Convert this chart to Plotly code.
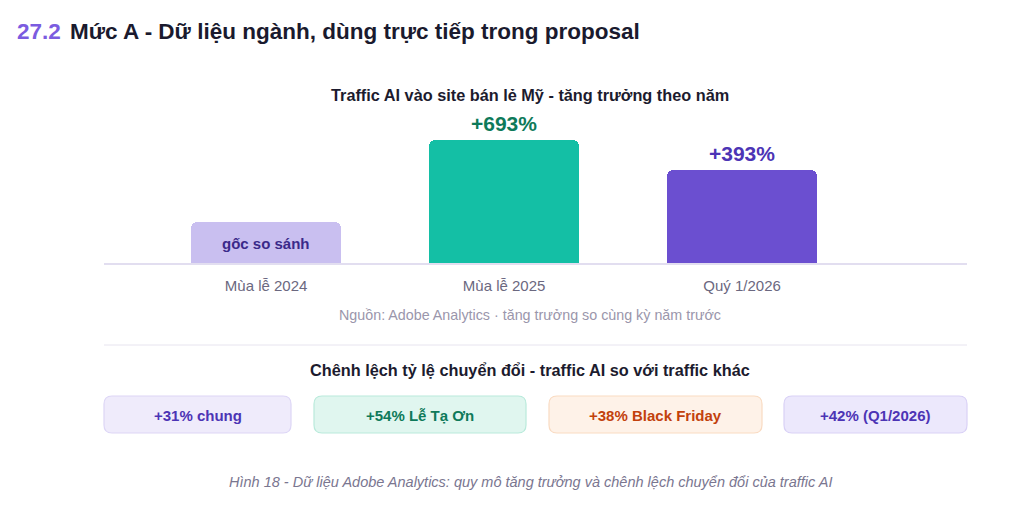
import plotly.graph_objects as go

W, H = 1024, 517

# ---- data ----
categories = ["Mùa lễ 2024", "Mùa lễ 2025", "Quý 1/2026"]
bar_heights = [33, 100, 76]          # relative bar height (% of tallest)
bar_labels = ["gốc so sánh", "+693%", "+393%"]
bar_colors = ["#c9bff0", "#14bfa5", "#6b4fd0"]
label_colors = ["#3b2a8a", "#0e7a5a", "#4c34b5"]

pill_labels = ["+31% chung", "+54% Lễ Tạ Ơn", "+38% Black Friday", "+42% (Q1/2026)"]
pill_fills = ["#efebfb", "#e0f6ef", "#fef2e8", "#ece8fc"]
pill_borders = ["#ddd6f6", "#b9eadb", "#f9dbc2", "#d9d1f6"]
pill_text = ["#4c34b5", "#0e7a5a", "#c2410c", "#4c34b5"]

FONT = "Liberation Sans"

def px(x):
    return x / W

def py(y):
    return 1 - y / H

fig = go.Figure()
xs = list(range(len(categories)))
fig.add_trace(go.Bar(
    x=xs, y=bar_heights, width=0.63,
    marker=dict(color=bar_colors, line=dict(width=0), cornerradius=6),
    hoverinfo="skip", showlegend=False,
))

annotations = []
# labels on bars
for i, (lab, h, c) in enumerate(zip(bar_labels, bar_heights, label_colors)):
    if i == 0:
        annotations.append(dict(x=i, y=h / 2, xref="x", yref="y", text=f"<b>{lab}</b>",
                                showarrow=False, font=dict(family=FONT, size=15, color=c),
                                xanchor="center", yanchor="middle", yshift=-1))
    else:
        annotations.append(dict(x=i, y=h, xref="x", yref="y", text=f"<b>{lab}</b>",
                                showarrow=False, font=dict(family=FONT, size=21, color=c),
                                xanchor="center", yanchor="bottom", yshift=3))

def text(x, y, t, size, color, anchor="center", bold=False, italic=False):
    if bold:
        t = f"<b>{t}</b>"
    if italic:
        t = f"<i>{t}</i>"
    annotations.append(dict(x=px(x), y=py(y), xref="paper", yref="paper", text=t,
                            showarrow=False, xanchor=anchor, yanchor="middle",
                            font=dict(family=FONT, size=size, color=color)))

text(15, 31, "27.2", 22.5, "#7b5ce0", anchor="left", bold=True)
text(68, 31, "Mức A - Dữ liệu ngành, dùng trực tiếp trong proposal", 22.5, "#1a1a2e", anchor="left", bold=True)
text(530, 95, "Traffic AI vào site bán lẻ Mỹ - tăng trưởng theo năm", 16.3, "#1c1b2e", bold=True)
text(530, 315, "Nguồn: Adobe Analytics · tăng trưởng so cùng kỳ năm trước", 14.3, "#9a96ab")
text(530, 370, "Chênh lệch tỷ lệ chuyển đổi - traffic AI so với traffic khác", 16.3, "#1c1b2e", bold=True)
text(530, 482, "Hình 18 - Dữ liệu Adobe Analytics: quy mô tăng trưởng và chênh lệch chuyển đổi của traffic AI",
     14.5, "#7a7690", italic=True)

shapes = []
shapes.append(dict(type="line", xref="paper", yref="paper", x0=px(104), x1=px(967),
                   y0=py(345), y1=py(345), line=dict(color="#e7e4ef", width=1)))

# pills
pill_x = [(104, 291), (314, 526), (549, 762), (784, 967)]
top, bot, r = 396, 433, 8
for (x0, x1), lab, f, b, tc in zip(pill_x, pill_labels, pill_fills, pill_borders, pill_text):
    X0, X1 = px(x0), px(x1)
    rx, ry = r / W, r / H
    T, B = py(top), py(bot)
    path = (f"M {X0+rx},{T} L {X1-rx},{T} Q {X1},{T} {X1},{T-ry} "
            f"L {X1},{B+ry} Q {X1},{B} {X1-rx},{B} L {X0+rx},{B} Q {X0},{B} {X0},{B+ry} "
            f"L {X0},{T-ry} Q {X0},{T} {X0+rx},{T} Z")
    shapes.append(dict(type="path", xref="paper", yref="paper", path=path,
                       fillcolor=f, line=dict(color=b, width=1.2), layer="below"))
    text((x0 + x1) / 2, (top + bot) / 2 + 1, lab, 15, tc, bold=True)

fig.update_layout(
    width=W, height=H,
    margin=dict(l=0, r=0, t=0, b=0),
    paper_bgcolor="white", plot_bgcolor="white",
    annotations=annotations, shapes=shapes,
    bargap=0,
    xaxis=dict(domain=[px(104), px(967)], range=[-0.681, 2.945],
               tickvals=xs, ticktext=categories, showgrid=False, zeroline=False,
               showline=True, linecolor="#e2def0", linewidth=2,
               ticks="outside", ticklen=8, tickcolor="rgba(0,0,0,0)",
               tickfont=dict(family=FONT, size=15, color="#6b6880"), fixedrange=True),
    yaxis=dict(domain=[py(263), py(140)], range=[0, 100], visible=False, fixedrange=True),
    font=dict(family=FONT),
)

fig.write_html("out.html", config={"displayModeBar": False},
               post_script="document.body.style.margin='0';document.body.style.overflow='hidden';")
